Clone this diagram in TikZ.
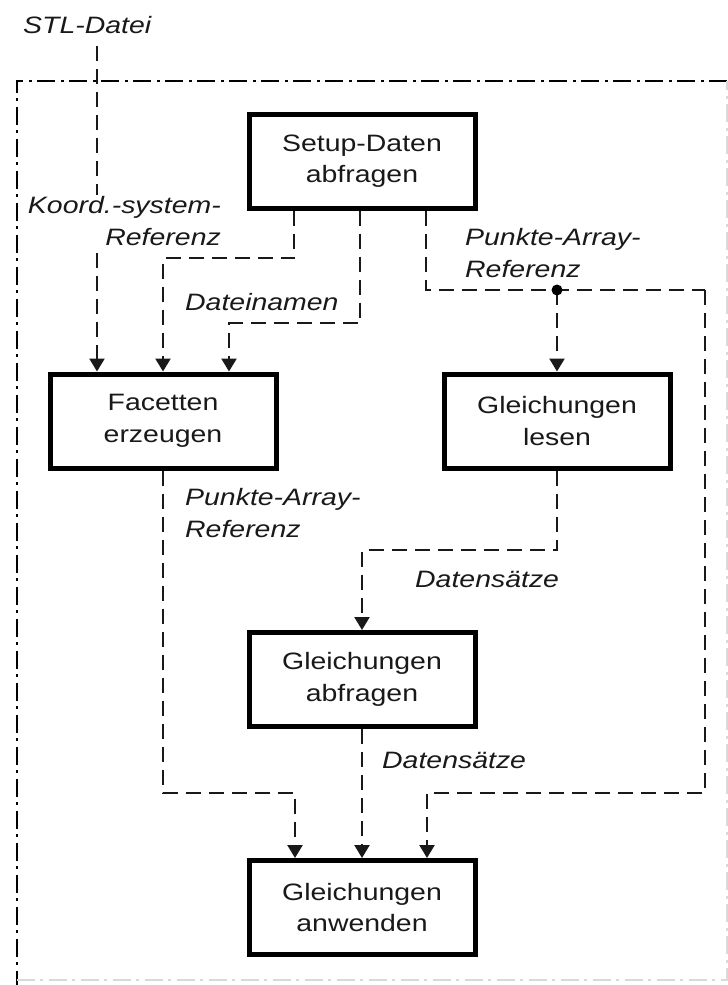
\documentclass[tikz,border=0pt]{standalone}
\usepackage{fontspec}
\setmainfont{Liberation Sans}[FakeStretch=1.2]
\usetikzlibrary{arrows.meta}

\tikzset{
  txt/.style={font=\fontsize{23.7}{31.5}\selectfont, text=black!90},
  lbl/.style={txt, font=\fontsize{23.7}{31.5}\selectfont\itshape, inner sep=0pt},
  stepbox/.style={txt, draw=black, line width=5pt, minimum width=226pt,
    minimum height=94pt, align=center, inner sep=0pt},
  flow/.style={draw=black!90, line width=2.4pt, dash pattern=on 15pt off 8pt},
  flowarr/.style={flow, -{Triangle[width=15pt,length=13pt]}},
  frame/.style={line width=2.2pt, dash pattern=on 18pt off 5pt on 3pt off 6pt},
}

\begin{document}
\begin{tikzpicture}[x=1pt,y=-1pt]
\useasboundingbox (0,0) rectangle (728,985);

% system boundary (dash-dot)
\draw[frame, black] (727,81) -- (17,81) -- (17,985);
\draw[frame, black!15] (17,980) -- (727,980) -- (727,81);

% process boxes
\node[stepbox] (setup)    at (362,161)   {Setup-Daten\\abfragen};
\node[stepbox] (facetten) at (163,421)   {Facetten\\erzeugen};
\node[stepbox] (lesen)    at (557,421)   {Gleichungen\\lesen};
\node[stepbox] (abfragen) at (362,679.5) {Gleichungen\\abfragen};
\node[stepbox] (anwenden) at (362,907.5) {Gleichungen\\anwenden};

% bend points
\coordinate (stltop) at (97,46);
\coordinate (k1) at (294,258);
\coordinate (d1) at (360,323);
\coordinate (p1) at (426,290);
\coordinate (split) at (557,290);
\coordinate (p2) at (705,290);
\coordinate (p3) at (705,793);
\coordinate (f1) at (163,793);
\coordinate (l1) at (557,550);

% external input
\node[lbl, anchor=base west] (stl) at (23,33) {STL-Datei};
\draw[flowarr] (stltop) -- (stltop |- facetten.north);

% Setup -> Facetten (coordinate system reference)
\draw[flowarr] (setup.south -| k1) -- (k1) -| (facetten.north);
\node[lbl, anchor=base east, align=right, fill=white, inner sep=1pt] (koord) at (222,245)
  {Koord.-system-\\Referenz};

% Setup -> Facetten (file names)
\draw[flowarr] (setup.south -| d1) -- (d1) -| ([xshift=66pt]facetten.north);
\node[lbl, anchor=base west] (dat) at (185,310) {Dateinamen};

% Setup -> Gleichungen lesen / anwenden (point array reference)
\draw[flow] (setup.south -| p1) -- (p1) -- (p2);
\draw[flowarr] (p2) -- (p3) -| ([xshift=65pt]anwenden.north);
\draw[flowarr] (split) -- (lesen.north);
\fill[black] (split) circle (5.5pt);
\node[lbl, anchor=base west, align=left] (pa1) at (465,277)
  {Punkte-Array-\\Referenz};

% Facetten -> anwenden
\draw[flowarr] (facetten.south) -- (f1) -| ([xshift=-67pt]anwenden.north);
\node[lbl, anchor=base west, align=left] (pa2) at (185,537)
  {Punkte-Array-\\Referenz};

% lesen -> abfragen
\draw[flowarr] (lesen.south) -- (l1) -| (abfragen.north);
\node[lbl, anchor=base west] (ds1) at (415,587) {Datensätze};

% abfragen -> anwenden
\draw[flowarr] (abfragen.south) -- (anwenden.north);
\node[lbl, anchor=base west] (ds2) at (382,768) {Datensätze};
\end{tikzpicture}
\end{document}
